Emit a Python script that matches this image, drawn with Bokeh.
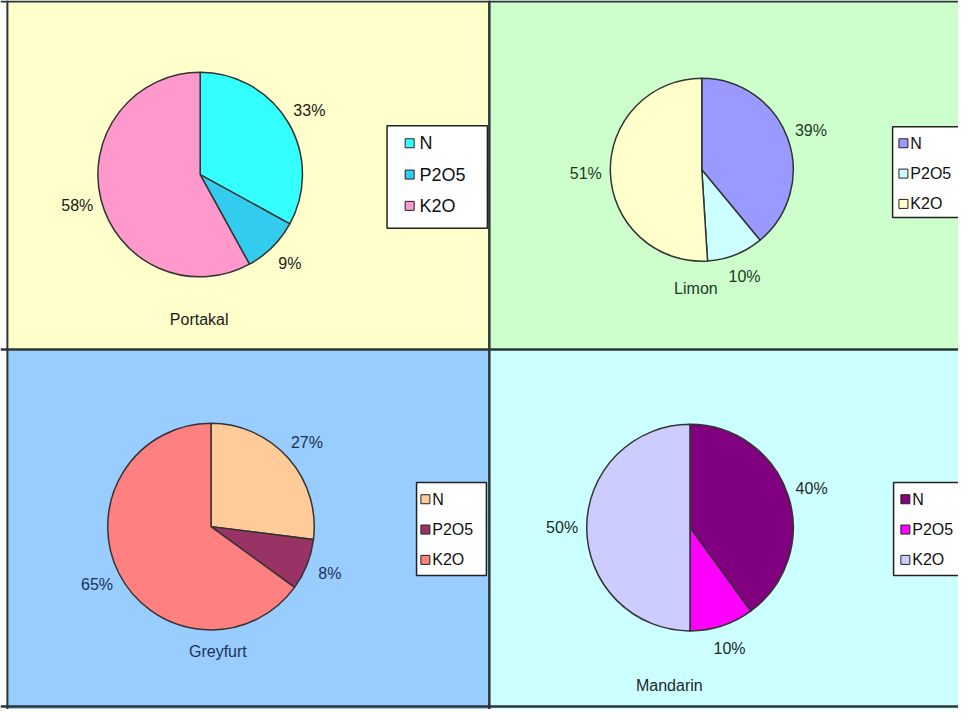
import math
from bokeh.plotting import figure
from bokeh.models import Range1d
from bokeh.core.properties import value
from bokeh.embed import file_html
from bokeh.resources import INLINE

# ---------------- data ----------------
categories = ["N", "P2O5", "K2O"]
fruits = ["Portakal", "Limon", "Greyfurt", "Mandarin"]
portakal = [33, 9, 58]
limon = [39, 10, 51]
greyfurt = [27, 8, 65]
mandarin = [40, 10, 50]
series = [portakal, limon, greyfurt, mandarin]

# ---------------- styles ----------------
panel_bg = ["#FFFFCC", "#CCFFCC", "#99CCFF", "#CCFFFF"]
slice_colors = [
    ["#33FFFF", "#33CCEE", "#FF99CC"],
    ["#9999FF", "#CCFFFF", "#FFFFCC"],
    ["#FFCC99", "#993366", "#FF8080"],
    ["#800080", "#FF00FF", "#CCCCFF"],
]
text_colors = ["#1a1a1a", "#1f3a1f", "#1a3355", "#1a2a2a"]
FONT = value("Liberation Sans")

# ---------------- layout (reference pixel coords, y down) ----------------
W, H = 974, 725
panels = [(7, 0, 497, 357), (497, 0, 980, 357), (7, 357, 497, 725), (497, 357, 980, 725)]
centers = [(203, 178), (713, 173), (214, 538), (701, 539)]
radii = [104, 93, 105, 105]
title_pos = [(202, 326), (707, 295), (221, 666), (680, 700)]
legend_box = [(393, 128, 495, 233), (907, 129, 990, 222), (423, 493, 494, 588), (908, 493, 990, 588)]
legend_first = [146, 146, 510, 510]
legend_step = [32, 31, 31, 31]
legend_sq_x = [416, 918, 432, 920]
legend_txt_x = [426, 925, 439, 927]
legend_font = ["18px", "16px", "16px", "16px"]
legend_sq = [9, 9, 9, 9]


def fy(y):
    return H - y


p = figure(width=958, height=709, x_range=Range1d(0, W), y_range=Range1d(0, H),
           output_backend="svg", toolbar_location=None, min_border=0,
           x_axis_location=None, y_axis_location=None)
p.grid.visible = False
p.outline_line_color = None
p.background_fill_color = "white"
p.border_fill_color = "white"

for i in range(4):
    x0, y0, x1, y1 = panels[i]
    p.quad(left=[x0], right=[x1], top=[fy(y0)], bottom=[fy(y1)],
           fill_color=panel_bg[i], line_color=None)

# borders / dividers
border = "#2b3636"
p.segment(x0=[497], y0=[fy(0)], x1=[497], y1=[fy(725)], line_color=border, line_width=2.5)
p.segment(x0=[0], y0=[fy(357)], x1=[980], y1=[fy(357)], line_color=border, line_width=2.5)
p.segment(x0=[7], y0=[fy(0)], x1=[7], y1=[fy(725)], line_color=border, line_width=2)
p.segment(x0=[0], y0=[fy(1)], x1=[980], y1=[fy(1)], line_color=border, line_width=2)
p.segment(x0=[0], y0=[fy(722)], x1=[980], y1=[fy(722)], line_color=border, line_width=2.5)

for i, vals in enumerate(series):
    cx, cy = centers[i]
    r = radii[i]
    total = float(sum(vals))
    cum = 0.0
    starts, ends, lx, ly, labels = [], [], [], [], []
    for v in vals:
        a0 = math.pi / 2 - 2 * math.pi * cum / total
        a1 = math.pi / 2 - 2 * math.pi * (cum + v) / total
        mid = math.pi / 2 - 2 * math.pi * (cum + v / 2.0) / total
        starts.append(a0)
        ends.append(a1)
        lr = r + 25
        lx.append(cx + lr * math.cos(mid))
        ly.append(fy(cy) + lr * math.sin(mid))
        labels.append(f"{v}%")
        cum += v
    p.wedge(x=[cx] * 3, y=[fy(cy)] * 3, radius=r,
            start_angle=starts, end_angle=ends, direction="clock",
            fill_color=slice_colors[i], line_color="#333333", line_width=1.5)
    p.text(x=lx, y=ly, text=labels, text_align="center", text_baseline="middle",
           text_font=FONT, text_font_size="16px", text_color=text_colors[i])
    tx, ty = title_pos[i]
    p.text(x=[tx], y=[fy(ty)], text=[fruits[i]], text_align="center", text_baseline="middle",
           text_font=FONT, text_font_size="16px", text_color=text_colors[i])

    # legend
    bx0, by0, bx1, by1 = legend_box[i]
    p.quad(left=[bx0], right=[bx1], top=[fy(by0)], bottom=[fy(by1)],
           fill_color="white", line_color="#222222", line_width=1.5)
    rows = [fy(legend_first[i] + k * legend_step[i]) for k in range(len(categories))]
    p.rect(x=[legend_sq_x[i]] * 3, y=rows, width=legend_sq[i], height=legend_sq[i],
           width_units="screen", height_units="screen",
           fill_color=slice_colors[i], line_color="#222222", line_width=1)
    p.text(x=[legend_txt_x[i]] * 3, y=rows, text=categories, text_align="left",
           text_baseline="middle", text_font=FONT, text_font_size=legend_font[i],
           text_color="#111111")

open("out.html", "w").write(file_html(p, INLINE))
